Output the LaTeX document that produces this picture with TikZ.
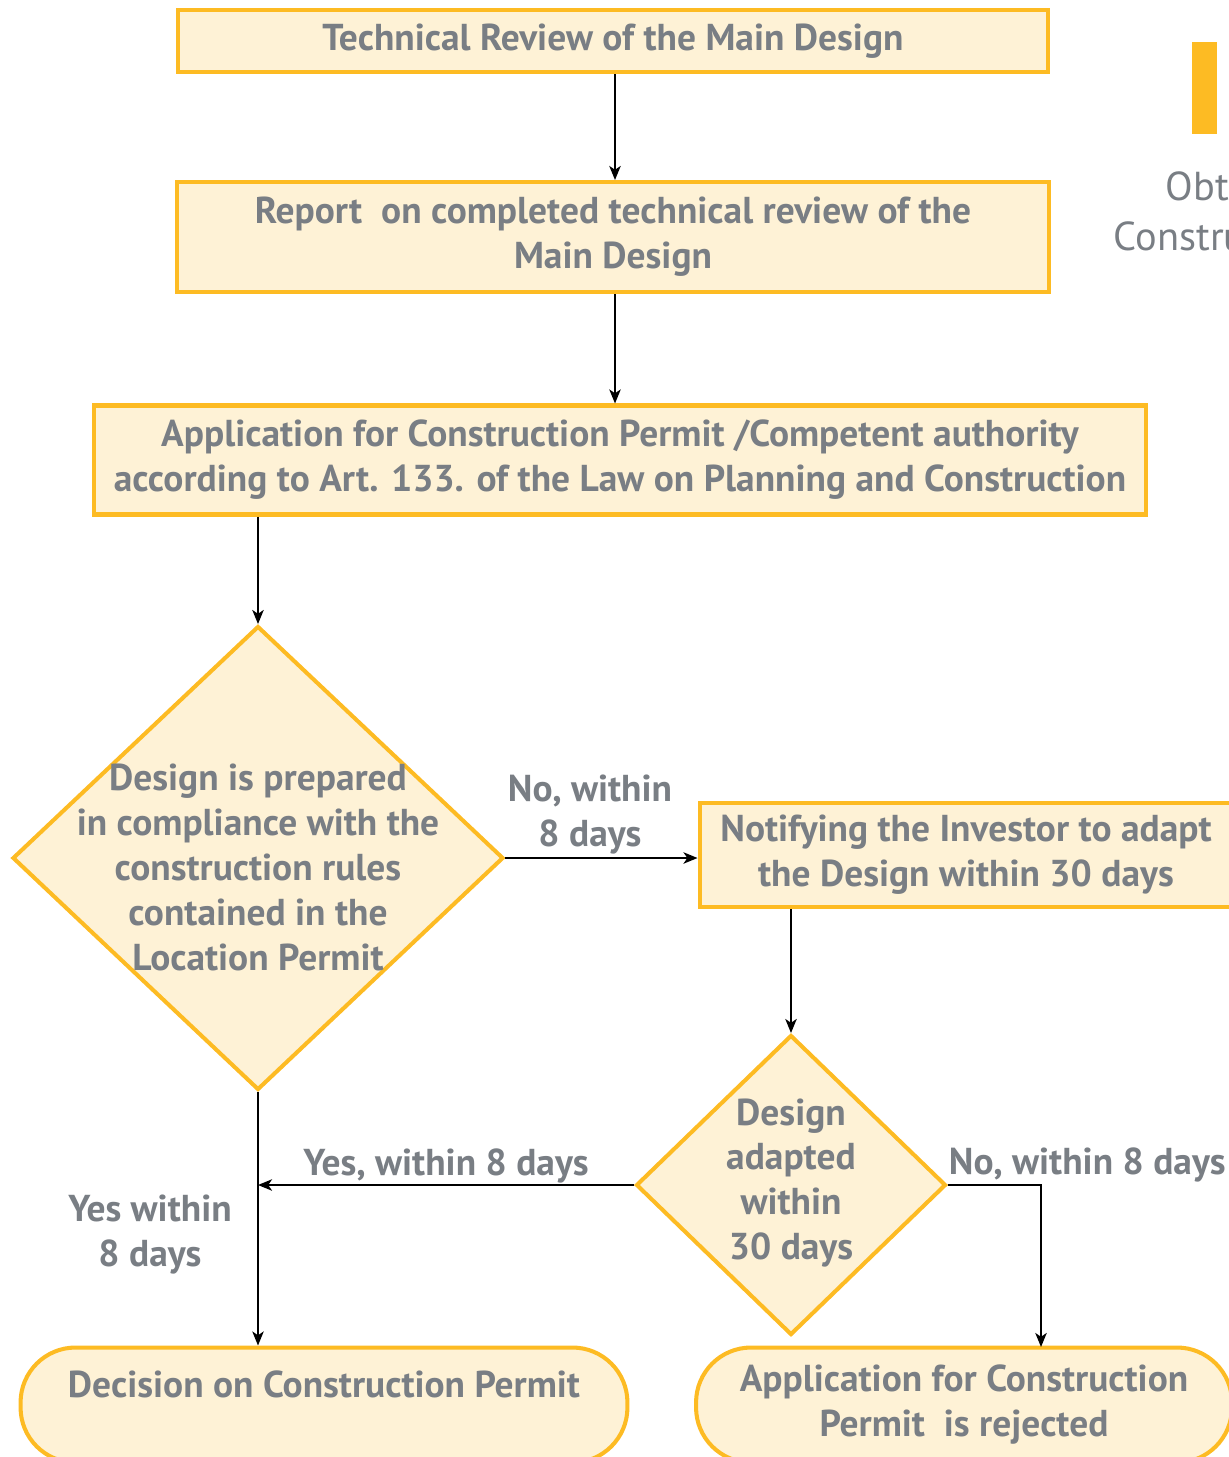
\documentclass[tikz,border=0pt]{standalone}
\usepackage{fontspec}
\setmainfont{PT Sans}
\usetikzlibrary{arrows.meta,calc,shapes,positioning}
\definecolor{boxfill}{RGB}{254,242,214}
\definecolor{boxline}{RGB}{253,187,35}
\definecolor{txtgray}{RGB}{121,126,132}

\begin{document}
\begin{tikzpicture}[x=0.02cm, y=-0.02cm, >={Stealth[length=8pt, width=6.5pt, inset=2.2pt]}, line width=1.1pt,
	stepbox/.style={rectangle, draw=boxline, fill=boxfill, line width=2.3pt, text=txtgray,
		font=\fontsize{21.3}{25.6}\selectfont\bfseries, align=center, inner sep=0pt},
	decision/.style={diamond, draw=boxline, fill=boxfill, line width=2.3pt, inner sep=0pt},
	terminal/.style={stepbox, rounded corners=1.1cm},
	lbl/.style={text=txtgray, font=\fontsize{21.3}{25.6}\selectfont\bfseries, align=center}
]
\useasboundingbox (0,0) rectangle (1229,1457);
\clip (0,0) rectangle (1229,1457);

\node [stepbox, minimum width=17.42cm, minimum height=1.24cm] (review) at (613,41)
	{Technical Review of the Main Design};
\node [stepbox, minimum width=17.44cm, minimum height=2.2cm] (report) at (613,237)
	{Report\ \ on completed technical review of the\\ Main Design};
\node [stepbox, minimum width=21.04cm, minimum height=2.18cm] (apply) at (620,460)
	{Application for Construction Permit /Competent authority\\ according to Art. 133. of the Law on Planning and Construction};

\node [decision, minimum width=9.82cm, minimum height=9.28cm] (check) at (258,858) {};
\node [lbl] (checktxt) at (258,867)
	{Design is prepared\\ in compliance with the\\ construction rules\\ contained in the\\ Location Permit};

\node [stepbox, minimum width=10.66cm, minimum height=2.08cm] (notify) at (966,855)
	{Notifying the Investor to adapt\\ the Design within 30 days};

\node [decision, minimum width=6.2cm, minimum height=6cm] (adapted) at (791,1185) {};
\node [lbl] (adaptedtxt) at (791,1183) {Design\\ adapted\\ within\\ 30 days};

\node [terminal, minimum width=12.14cm, minimum height=2.3cm] (decision) at (324,1405)
	{Decision on Construction Permit\\[-9pt] \strut};
\node [terminal, minimum width=10.72cm, minimum height=2.3cm] (rejected) at (964,1405)
	{Application for Construction\\ Permit\ \ is rejected};

\coordinate (rejin) at (1041,1347);

% connectors
\draw [->] (review.south -| 615,0) -- (report.north -| 615,0);
\draw [->] (report.south -| 615,0) -- (apply.north -| 615,0);
\draw [->] (check.north |- apply.south) -- (check.north);
\draw [->] (check.east) -- (check.east -| notify.west);
\draw [->] (adapted.north |- notify.south) -- (adapted.north);
\draw [->] (adapted.west) -- (adapted.west -| check.south);
\draw [->] (check.south) -- (check.south |- decision.north);
\draw [->] (adapted.east) -| (rejin);

\node [lbl] (lblno) at (590,815) {No, within\\ 8 days};
\node [lbl] (lblyes) at (446,1166) {Yes, within 8 days};
\node [lbl] (lblyesdown) at (150,1235) {Yes within\\ 8 days};
\node [lbl, anchor=west, inner sep=0pt] (lblnoright) at (948,1165) {No, within 8 days};

% cut-off part of the next panel
\fill [boxline] (1192,42) rectangle (1217,134);
\node [text=txtgray, font=\fontsize{23}{28}\selectfont, anchor=base west, inner sep=0pt] (obt) at (1165,200) {Obtaining};
\node [text=txtgray, font=\fontsize{23}{28}\selectfont, anchor=base west, inner sep=0pt] (constr) at (1113,250) {Construction};
\end{tikzpicture}
\end{document}
